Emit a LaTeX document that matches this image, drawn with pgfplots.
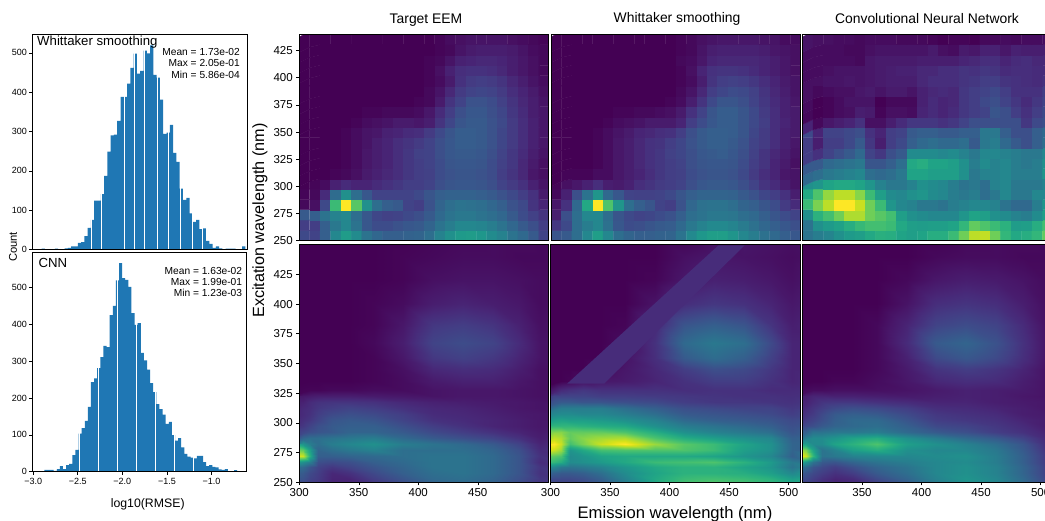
\documentclass[border=0pt]{standalone}
\usepackage{pgfplots}
\pgfplotsset{compat=1.18}
\usepackage{fontspec}
\setmainfont{Liberation Sans}
\newcommand{\fs}[1]{\fontsize{#1}{#1}\selectfont}
\definecolor{histc}{HTML}{1F77B4}
\definecolor{bandc}{HTML}{472C7A}
% grid positions of the bottom panels: x = 300,306,312,320,335,350,375,400,425,450,475,495,510
% y = 250,255,...,330,340,350,360,375,390,410,430,450
\def\gi{mod(\coordindex,13)}
\def\gr{floor(\coordindex/13)}
\def\gridx{300+6*min(\gi,2)+8*max(0,min(\gi-2,1))+15*max(0,min(\gi-3,2))+25*max(0,min(\gi-5,5))+20*max(0,min(\gi-10,1))+15*max(0,min(\gi-11,1))}
\def\gridy{250+5*min(\gr,16)+10*max(0,min(\gr-16,3))+15*max(0,min(\gr-19,2))+20*max(0,min(\gr-21,3))}
\pgfplotsset{
 base/.style={scale only axis,anchor=south west,axis line style={black,line width=0.6pt},
  tick style={black,line width=0.6pt},major tick length=3pt,tick align=outside,
  /pgf/number format/assume math mode=true,axis on top},
 hist/.style={base,width=214.5pt,ticklabel style={font=\fs{9}},ymin=0,ytick={0,100,200,300,400,500},
  tick pos=left,yticklabel style={xshift=1pt}},
 heat/.style={base,width=250pt,xmin=300,xmax=510,colormap/viridis,point meta min=0,point meta max=100,
  ticklabel style={font=\fs{11.5}},tick pos=left,enlargelimits=false},
 toprow/.style={heat,height=206.4pt,ymin=250,ymax=440,xtick=\empty,ytick=\empty},
 botrow/.style={heat,height=237.6pt,ymin=250,ymax=450,ytick=\empty},
 cells/.style={matrix plot*,shader=faceted,faceted color=mapped color,line width=0.3pt,mesh/cols=24,mesh/ordering=x varies,point meta=explicit},
 smoothp/.style={surf,shader=interp,mesh/cols=13,mesh/ordering=x varies,point meta=explicit},
}
\begin{document}
\begin{tikzpicture}[x=1pt,y=1pt]
\useasboundingbox (0,0) rectangle (1045,521);
% ---------- histograms
\begin{axis}[hist,at={(32.3pt,271.5pt)},height=215.5pt,xmin=-3.347,xmax=-0.71,ymax=548,xtick=\empty]
\addplot[ybar interval,fill=histc,draw=none] table[row sep=crcr,x expr={-3.232+0.0404*\coordindex},y=c]{c\\
2\\0\\0\\0\\2\\1\\1\\3\\4\\8\\8\\17\\19\\34\\55\\75\\124\\124\\141\\187\\
249\\290\\292\\327\\388\\388\\422\\462\\498\\447\\454\\506\\499\\519\\444\\437\\381\\294\\297\\317\\
246\\223\\155\\126\\131\\92\\70\\75\\52\\54\\22\\14\\4\\8\\3\\1\\2\\2\\2\\0\\0\\8\\8\\};
\addplot[ycomb,white,line width=0.7pt,mark=none] coordinates {(-2.617,548)(-2.494,548)(-2.215,548)(-2.092,548)(-1.969,548)(-1.813,548)(-1.674,548)(-1.526,548)(-1.374,548)(-1.259,548)};
\end{axis}
\begin{axis}[hist,at={(32.3pt,49.3pt)},height=219pt,xmin=-3.01,xmax=-0.604,ymax=594,
 xtick={-3,-2.5,-2,-1.5,-1},xticklabels={−3.0,−2.5,−2.0,−1.5,−1.0}]
\addplot[ybar interval,fill=histc,draw=none] table[row sep=crcr,x expr={-2.91+0.0349*\coordindex},y=c]{c\\
1\\5\\5\\5\\2\\7\\15\\7\\18\\21\\45\\59\\103\\118\\138\\176\\243\\253\\281\\311\\341\\338\\425\\450\\519\\566\\525\\520\\501\\430\\
398\\403\\322\\302\\277\\240\\216\\183\\170\\155\\130\\135\\99\\84\\91\\66\\48\\41\\38\\36\\43\\43\\26\\15\\18\\13\\12\\6\\5\\7\\1\\0\\4\\4\\};
\addplot[ycomb,white,line width=0.7pt,mark=none] coordinates {(-2.483,594)(-2.266,594)(-2.057,594)(-1.844,594)(-1.631,594)(-1.418,594)(-1.201,594)};
\end{axis}
% ---------- top row
\begin{axis}[toprow,at={(299.3pt,280.3pt)},width=249.3pt,xmax=509.5,ytick={250,275,300,325,350,375,400,425}]
\addplot[cells] table[row sep=crcr,x expr={304.375+8.75*mod(\coordindex,24)},y expr={254.75+9.5*floor(\coordindex/24)},meta=z]{z\\
22\\20\\30\\46\\55\\48\\38\\33\\30\\30\\31\\32\\36\\44\\50\\54\\55\\53\\48\\44\\38\\34\\28\\20\\
18\\18\\30\\40\\46\\38\\27\\23\\23\\25\\27\\28\\32\\38\\42\\46\\46\\45\\42\\38\\33\\28\\24\\18\\
28\\30\\38\\44\\46\\36\\27\\21\\19\\20\\22\\24\\28\\34\\38\\40\\40\\38\\36\\33\\28\\23\\19\\15\\
2\\4\\22\\68\\100\\74\\50\\36\\30\\28\\20\\18\\25\\32\\36\\38\\37\\36\\33\\30\\25\\22\\15\\10\\
1\\2\\12\\35\\50\\36\\27\\20\\20\\20\\20\\22\\26\\30\\31\\31\\31\\30\\28\\25\\22\\18\\14\\7\\
0\\1\\3\\9\\12\\10\\10\\12\\14\\16\\18\\18\\20\\24\\26\\27\\27\\26\\24\\20\\17\\14\\9\\5\\
0\\0\\0\\1\\2\\4\\7\\9\\11\\13\\16\\18\\19\\23\\25\\26\\26\\25\\23\\18\\15\\11\\6\\4\\
0\\0\\0\\0\\1\\3\\6\\8\\10\\13\\16\\18\\20\\23\\26\\27\\27\\26\\23\\19\\16\\11\\7\\4\\
0\\0\\0\\0\\1\\3\\6\\8\\10\\13\\16\\19\\20\\24\\27\\28\\28\\27\\24\\20\\16\\12\\8\\5\\
0\\0\\0\\0\\1\\3\\5\\8\\10\\13\\15\\17\\20\\24\\27\\29\\29\\28\\25\\21\\17\\13\\9\\6\\
0\\0\\0\\0\\1\\3\\5\\6\\9\\10\\12\\13\\17\\22\\26\\29\\29\\28\\25\\21\\17\\13\\9\\6\\
0\\0\\0\\0\\0\\1\\3\\4\\5\\7\\7\\6\\8\\15\\21\\26\\28\\28\\25\\22\\17\\13\\9\\6\\
0\\0\\0\\0\\0\\0\\1\\1\\2\\2\\2\\3\\6\\12\\18\\24\\27\\27\\24\\21\\16\\12\\8\\6\\
0\\0\\0\\0\\0\\0\\0\\0\\0\\0\\0\\1\\2\\7\\15\\20\\25\\25\\23\\19\\15\\11\\8\\5\\
0\\0\\0\\0\\0\\0\\0\\0\\0\\0\\0\\0\\2\\5\\11\\17\\20\\21\\20\\17\\13\\10\\7\\4\\
0\\0\\0\\0\\0\\0\\0\\0\\0\\0\\0\\0\\1\\3\\7\\14\\17\\18\\17\\15\\11\\8\\5\\3\\
0\\0\\0\\0\\0\\0\\0\\0\\0\\0\\0\\0\\1\\4\\9\\13\\14\\14\\13\\11\\8\\6\\4\\2\\
0\\0\\0\\0\\0\\0\\0\\0\\0\\0\\0\\0\\1\\2\\5\\9\\10\\11\\11\\10\\8\\6\\4\\2\\
0\\0\\0\\0\\0\\0\\0\\0\\0\\0\\0\\0\\0\\1\\2\\5\\7\\8\\8\\8\\7\\5\\3\\2\\
0\\0\\0\\0\\0\\0\\0\\0\\0\\0\\0\\0\\0\\1\\3\\4\\5\\5\\5\\5\\4\\3\\2\\1\\};
\end{axis}
\begin{axis}[toprow,at={(551pt,280.3pt)},width=249.6pt,xmax=509.7]
\addplot[cells] table[row sep=crcr,x expr={304.375+8.75*mod(\coordindex,24)},y expr={254.75+9.5*floor(\coordindex/24)},meta=z]{z\\
26\\28\\36\\46\\56\\46\\36\\32\\30\\30\\31\\32\\38\\47\\53\\56\\56\\52\\46\\42\\37\\34\\30\\27\\
16\\22\\36\\42\\46\\37\\27\\23\\24\\26\\28\\29\\34\\40\\44\\47\\47\\45\\41\\37\\33\\30\\27\\24\\
8\\24\\36\\46\\46\\36\\26\\22\\20\\21\\23\\25\\30\\36\\38\\40\\40\\39\\36\\34\\30\\26\\23\\20\\
6\\14\\34\\60\\100\\72\\52\\36\\30\\26\\20\\18\\25\\33\\37\\38\\38\\36\\32\\30\\26\\23\\17\\12\\
2\\9\\24\\38\\52\\34\\27\\20\\19\\19\\20\\22\\26\\30\\32\\32\\32\\31\\28\\25\\21\\18\\14\\8\\
1\\4\\6\\9\\13\\8\\7\\9\\13\\15\\17\\18\\20\\24\\27\\28\\28\\27\\24\\20\\15\\12\\8\\5\\
0\\1\\1\\1\\3\\3\\6\\8\\10\\13\\16\\18\\19\\23\\25\\26\\26\\25\\22\\17\\13\\10\\6\\5\\
0\\0\\0\\0\\1\\3\\6\\8\\11\\14\\16\\18\\20\\24\\26\\27\\27\\26\\23\\18\\15\\10\\7\\4\\
0\\0\\0\\0\\1\\3\\6\\8\\11\\14\\16\\19\\21\\24\\27\\28\\29\\27\\24\\19\\15\\11\\8\\5\\
0\\0\\0\\0\\1\\3\\6\\8\\11\\14\\15\\18\\21\\25\\28\\30\\30\\28\\25\\20\\17\\13\\9\\6\\
0\\0\\0\\0\\1\\3\\5\\7\\10\\11\\13\\14\\18\\24\\28\\30\\30\\29\\26\\21\\17\\13\\9\\7\\
0\\0\\0\\0\\0\\1\\3\\4\\5\\7\\7\\7\\10\\18\\23\\27\\29\\29\\26\\22\\18\\13\\10\\7\\
0\\0\\0\\0\\0\\0\\1\\1\\2\\2\\3\\4\\7\\14\\20\\26\\29\\29\\26\\22\\17\\13\\9\\7\\
0\\0\\0\\0\\0\\0\\0\\0\\0\\0\\0\\1\\3\\8\\15\\22\\26\\26\\24\\20\\16\\12\\9\\6\\
0\\0\\0\\0\\0\\0\\0\\0\\0\\0\\0\\0\\2\\5\\11\\18\\21\\23\\22\\19\\15\\11\\8\\5\\
0\\0\\0\\0\\0\\0\\0\\0\\0\\0\\0\\0\\1\\3\\8\\15\\18\\19\\18\\16\\13\\10\\7\\5\\
0\\0\\0\\0\\0\\0\\0\\0\\0\\0\\0\\0\\1\\4\\10\\14\\15\\15\\14\\12\\10\\8\\6\\4\\
0\\0\\0\\0\\0\\0\\0\\0\\0\\0\\0\\0\\2\\3\\6\\10\\11\\11\\11\\11\\10\\8\\6\\4\\
0\\0\\0\\0\\0\\0\\0\\0\\0\\0\\0\\0\\1\\2\\5\\8\\9\\9\\9\\9\\8\\6\\5\\4\\
0\\0\\0\\0\\0\\0\\0\\0\\0\\0\\0\\0\\1\\2\\4\\5\\6\\6\\6\\6\\5\\5\\3\\3\\};
\end{axis}
\begin{axis}[toprow,at={(802.7pt,280.3pt)}]
\addplot[cells] table[row sep=crcr,x expr={304.375+8.75*mod(\coordindex,24)},y expr={254.75+9.5*floor(\coordindex/24)},meta=z]{z\\
38\\42\\45\\50\\54\\56\\60\\63\\62\\58\\56\\58\\62\\62\\68\\78\\90\\91\\78\\66\\60\\62\\66\\76\\
38\\50\\54\\57\\62\\67\\70\\70\\68\\60\\56\\55\\56\\56\\58\\66\\76\\72\\68\\64\\55\\56\\62\\70\\
50\\64\\70\\78\\88\\88\\78\\74\\70\\56\\50\\48\\46\\46\\46\\52\\58\\56\\50\\48\\44\\42\\48\\56\\
68\\80\\90\\100\\100\\92\\78\\68\\52\\46\\44\\40\\40\\38\\42\\44\\46\\46\\44\\38\\34\\34\\42\\52\\
60\\72\\84\\90\\90\\82\\68\\56\\48\\46\\50\\52\\48\\46\\42\\40\\42\\36\\40\\46\\40\\40\\46\\46\\
50\\52\\58\\60\\60\\58\\52\\44\\40\\40\\44\\50\\48\\46\\42\\38\\40\\36\\44\\46\\40\\40\\40\\44\\
34\\36\\40\\42\\44\\46\\36\\34\\36\\40\\58\\58\\56\\56\\56\\50\\40\\44\\44\\46\\42\\42\\42\\52\\
28\\28\\34\\36\\38\\40\\26\\26\\30\\36\\60\\62\\58\\58\\56\\50\\42\\48\\44\\46\\42\\40\\42\\50\\
18\\14\\20\\24\\28\\34\\20\\16\\24\\28\\48\\48\\48\\46\\48\\44\\40\\46\\46\\44\\42\\40\\40\\46\\
18\\8\\18\\18\\22\\28\\16\\8\\18\\22\\30\\34\\36\\34\\34\\36\\28\\40\\42\\34\\28\\24\\30\\36\\
22\\10\\20\\20\\22\\24\\14\\10\\18\\20\\28\\30\\30\\28\\28\\30\\30\\40\\40\\30\\24\\24\\30\\34\\
10\\2\\6\\8\\10\\14\\4\\4\\8\\12\\16\\16\\16\\14\\16\\20\\24\\24\\24\\24\\24\\16\\22\\24\\
2\\0\\1\\3\\4\\8\\7\\1\\4\\4\\3\\10\\12\\10\\12\\16\\18\\20\\26\\24\\18\\14\\18\\22\\
3\\0\\1\\3\\5\\5\\5\\0\\2\\2\\2\\9\\12\\10\\11\\16\\18\\22\\24\\20\\16\\12\\16\\20\\
4\\2\\3\\4\\4\\6\\7\\5\\7\\7\\5\\9\\11\\12\\11\\16\\18\\20\\22\\18\\14\\14\\14\\18\\
4\\4\\5\\5\\6\\5\\6\\7\\8\\8\\8\\11\\13\\13\\13\\15\\16\\18\\18\\15\\14\\13\\12\\14\\
3\\3\\4\\5\\5\\5\\6\\7\\8\\9\\9\\11\\11\\13\\13\\15\\14\\16\\15\\12\\13\\13\\12\\12\\
3\\3\\3\\3\\3\\2\\6\\7\\7\\7\\7\\8\\8\\8\\8\\10\\11\\13\\13\\10\\12\\13\\11\\11\\
3\\3\\3\\3\\2\\2\\4\\5\\5\\5\\5\\5\\7\\4\\3\\7\\6\\9\\9\\6\\9\\8\\8\\8\\
5\\4\\4\\3\\3\\2\\3\\3\\3\\2\\2\\2\\1\\0\\1\\1\\0\\2\\2\\3\\2\\3\\3\\3\\};
\end{axis}
% ---------- bottom row
\begin{axis}[botrow,at={(299.3pt,38.7pt)},width=249.3pt,xmax=509.5,ytick={250,275,300,325,350,375,400,425},xtick={300,350,400,450}]
\addplot[smoothp] table[row sep=crcr,x expr={\gridx},y expr={\gridy},meta=z]{z\\
20\\20\\18\\16\\12\\12\\16\\22\\30\\32\\30\\22\\15\\
26\\25\\20\\17\\10\\10\\18\\26\\34\\36\\32\\24\\16\\
30\\28\\22\\18\\11\\14\\22\\30\\36\\38\\34\\26\\14\\
36\\34\\26\\20\\16\\20\\26\\32\\38\\38\\34\\26\\15\\
55\\50\\42\\24\\22\\24\\30\\34\\38\\38\\34\\26\\12\\
95\\92\\62\\30\\30\\32\\34\\36\\38\\38\\34\\26\\14\\
80\\76\\56\\32\\36\\40\\44\\36\\36\\36\\32\\24\\12\\
60\\52\\42\\36\\42\\46\\50\\42\\38\\34\\28\\20\\10\\
35\\35\\36\\36\\38\\40\\42\\34\\28\\24\\20\\14\\8\\
20\\22\\24\\26\\28\\32\\32\\28\\22\\18\\14\\10\\7\\
14\\16\\20\\24\\28\\30\\30\\24\\18\\14\\10\\8\\6\\
12\\14\\16\\20\\26\\28\\26\\20\\14\\12\\10\\8\\6\\
11\\12\\14\\18\\22\\24\\22\\18\\12\\11\\9\\7\\6\\
10\\12\\13\\16\\18\\20\\18\\14\\11\\10\\8\\6\\5\\
9\\10\\12\\14\\15\\15\\14\\11\\9\\8\\7\\6\\5\\
6\\6\\7\\8\\8\\8\\7\\6\\5\\6\\6\\5\\4\\
1\\1\\1\\1\\2\\2\\3\\3\\5\\6\\6\\5\\4\\
0\\0\\0\\0\\0\\0\\1\\3\\7\\9\\9\\6\\4\\
0\\0\\0\\0\\0\\0\\1\\4\\11\\13\\12\\8\\4\\
0\\0\\0\\0\\0\\0\\1\\6\\16\\19\\16\\10\\5\\
0\\0\\0\\0\\0\\0\\2\\8\\20\\23\\20\\12\\5\\
0\\0\\0\\0\\0\\0\\1\\6\\16\\18\\15\\9\\4\\
0\\0\\0\\0\\0\\0\\1\\3\\8\\10\\8\\6\\3\\
0\\0\\0\\0\\0\\0\\0\\1\\4\\5\\5\\4\\3\\
0\\0\\0\\0\\0\\0\\0\\1\\2\\3\\3\\2\\2\\};
\end{axis}
\begin{axis}[botrow,at={(550.5pt,38.7pt)},width=249.8pt,xmax=509.8,xtick={300,350,400,450,500}]
\addplot[smoothp] table[row sep=crcr,x expr={\gridx},y expr={\gridy},meta=z]{z\\
22\\22\\20\\20\\22\\28\\40\\58\\72\\76\\72\\66\\60\\
22\\22\\22\\22\\24\\30\\44\\60\\68\\70\\68\\64\\56\\
32\\30\\28\\28\\30\\36\\48\\58\\64\\64\\62\\56\\46\\
45\\46\\40\\38\\40\\44\\52\\60\\64\\64\\58\\52\\38\\
68\\66\\62\\48\\50\\54\\60\\68\\70\\72\\64\\54\\40\\
76\\75\\72\\48\\52\\58\\60\\60\\60\\58\\52\\46\\30\\
95\\92\\85\\52\\60\\70\\72\\72\\72\\68\\56\\50\\32\\
100\\100\\92\\70\\80\\92\\100\\85\\74\\68\\58\\50\\32\\
92\\92\\88\\76\\82\\86\\88\\72\\62\\56\\50\\46\\30\\
82\\84\\82\\76\\76\\76\\72\\62\\50\\44\\40\\36\\26\\
66\\66\\66\\66\\64\\62\\60\\50\\42\\38\\34\\30\\24\\
60\\58\\58\\56\\56\\54\\50\\44\\34\\30\\28\\26\\22\\
48\\48\\48\\48\\46\\46\\42\\36\\28\\26\\24\\22\\18\\
42\\42\\42\\42\\42\\42\\36\\30\\24\\22\\20\\20\\16\\
28\\28\\28\\28\\26\\26\\24\\22\\18\\16\\16\\15\\14\\
14\\20\\20\\20\\20\\18\\18\\17\\16\\15\\14\\14\\13\\
8\\10\\12\\14\\16\\14\\14\\14\\13\\14\\14\\12\\12\\
0\\0\\0\\1\\4\\6\\7\\10\\14\\18\\18\\14\\10\\
0\\0\\0\\0\\0\\3\\6\\11\\18\\24\\22\\16\\10\\
0\\0\\0\\0\\0\\0\\5\\13\\28\\35\\30\\19\\10\\
0\\0\\0\\0\\0\\0\\3\\14\\34\\40\\36\\22\\10\\
0\\0\\0\\0\\0\\0\\1\\11\\26\\30\\26\\15\\8\\
0\\0\\0\\0\\0\\0\\0\\5\\13\\16\\14\\10\\6\\
0\\0\\0\\0\\0\\0\\0\\1\\6\\9\\8\\6\\4\\
0\\0\\0\\0\\0\\0\\0\\0\\4\\6\\5\\4\\3\\};
\end{axis}
\begin{axis}[botrow,at={(550.5pt,38.7pt)},width=249.8pt,xmax=509.8,hide axis,clip=true]
\addplot[sharp plot,mesh/check=false,fill=bandc,draw=none] coordinates {(441,449.4) (463,449.4) (345,333) (314,333)} -- cycle;
\end{axis}
\begin{axis}[botrow,at={(802.5pt,38.7pt)},xtick={350,400,450,500}]
\addplot[smoothp] table[row sep=crcr,x expr={\gridx},y expr={\gridy},meta=z]{z\\
18\\18\\18\\16\\14\\14\\18\\26\\40\\48\\44\\34\\22\\
22\\22\\18\\14\\10\\12\\22\\32\\44\\52\\46\\34\\22\\
28\\26\\22\\18\\14\\18\\28\\36\\46\\50\\44\\32\\20\\
38\\34\\26\\22\\18\\24\\32\\38\\46\\50\\44\\32\\20\\
60\\52\\38\\28\\26\\32\\38\\42\\46\\48\\42\\30\\18\\
100\\92\\66\\38\\40\\44\\46\\46\\48\\50\\42\\30\\18\\
88\\80\\58\\38\\44\\56\\62\\50\\46\\46\\40\\28\\16\\
60\\56\\48\\48\\58\\64\\72\\56\\50\\44\\36\\26\\14\\
46\\46\\48\\48\\52\\58\\62\\50\\42\\34\\28\\20\\12\\
30\\32\\38\\38\\40\\40\\42\\34\\28\\24\\18\\14\\10\\
22\\22\\24\\28\\32\\34\\36\\30\\22\\20\\16\\12\\8\\
16\\18\\20\\24\\30\\34\\34\\26\\18\\16\\14\\10\\8\\
13\\15\\17\\22\\28\\30\\28\\22\\16\\14\\12\\8\\7\\
11\\13\\15\\18\\22\\24\\22\\18\\13\\12\\10\\8\\6\\
10\\10\\12\\15\\16\\16\\14\\12\\10\\10\\8\\7\\6\\
8\\8\\10\\10\\9\\9\\8\\7\\8\\9\\8\\6\\5\\
2\\3\\3\\3\\4\\4\\4\\5\\7\\9\\8\\7\\5\\
0\\0\\0\\0\\1\\1\\3\\6\\11\\13\\12\\8\\5\\
0\\0\\0\\0\\0\\0\\2\\7\\15\\18\\15\\10\\5\\
0\\0\\0\\0\\0\\0\\2\\9\\22\\27\\22\\13\\6\\
0\\0\\0\\0\\0\\0\\2\\12\\28\\32\\25\\14\\6\\
0\\0\\0\\0\\0\\0\\2\\10\\20\\23\\20\\12\\5\\
0\\0\\0\\0\\0\\0\\0\\5\\13\\15\\13\\8\\4\\
0\\0\\0\\0\\0\\0\\0\\2\\6\\8\\7\\5\\3\\
0\\0\\0\\0\\0\\0\\0\\0\\2\\3\\3\\2\\2\\};
\end{axis}
% ---------- texts
\node[anchor=base west,inner sep=0,font=\fs{13.2}] at (37,475) {Whittaker smoothing};
\node[anchor=base west,inner sep=0,font=\fs{13.2}] at (38.3,253) {CNN};
\foreach \t/\y in {{Mean = 1.73e-02}/465,{Max = 2.05e-01}/454,{Min = 5.86e-04}/442.7}
 \node[anchor=base east,inner sep=0,font=\fs{10.2}] at (240,\y) {\t};
\foreach \t/\y in {{Mean = 1.63e-02}/246,{Max = 1.99e-01}/235,{Min = 1.23e-03}/224}
 \node[anchor=base east,inner sep=0,font=\fs{10.2}] at (242.3,\y) {\t};
\node[rotate=90,inner sep=0,font=\fs{11.2}] at (13,274) {Count};
\node[anchor=base,inner sep=0,font=\fs{12.3}] at (147.7,13) {log10(RMSE)};
\node[anchor=base,inner sep=0,font=\fs{13.9}] at (426,497) {Target EEM};
\node[anchor=base,inner sep=0,font=\fs{13.9}] at (677,498) {Whittaker smoothing};
\node[anchor=base,inner sep=0,font=\fs{13.9}] at (927,497) {Convolutional Neural Network};
\node[anchor=base,inner sep=0,font=\fs{16.6}] at (675,2) {Emission wavelength (nm)};
\node[rotate=90,anchor=base,inner sep=0,font=\fs{16.2}] at (264,300.5) {Excitation wavelength (nm)};
\end{tikzpicture}
\end{document}
